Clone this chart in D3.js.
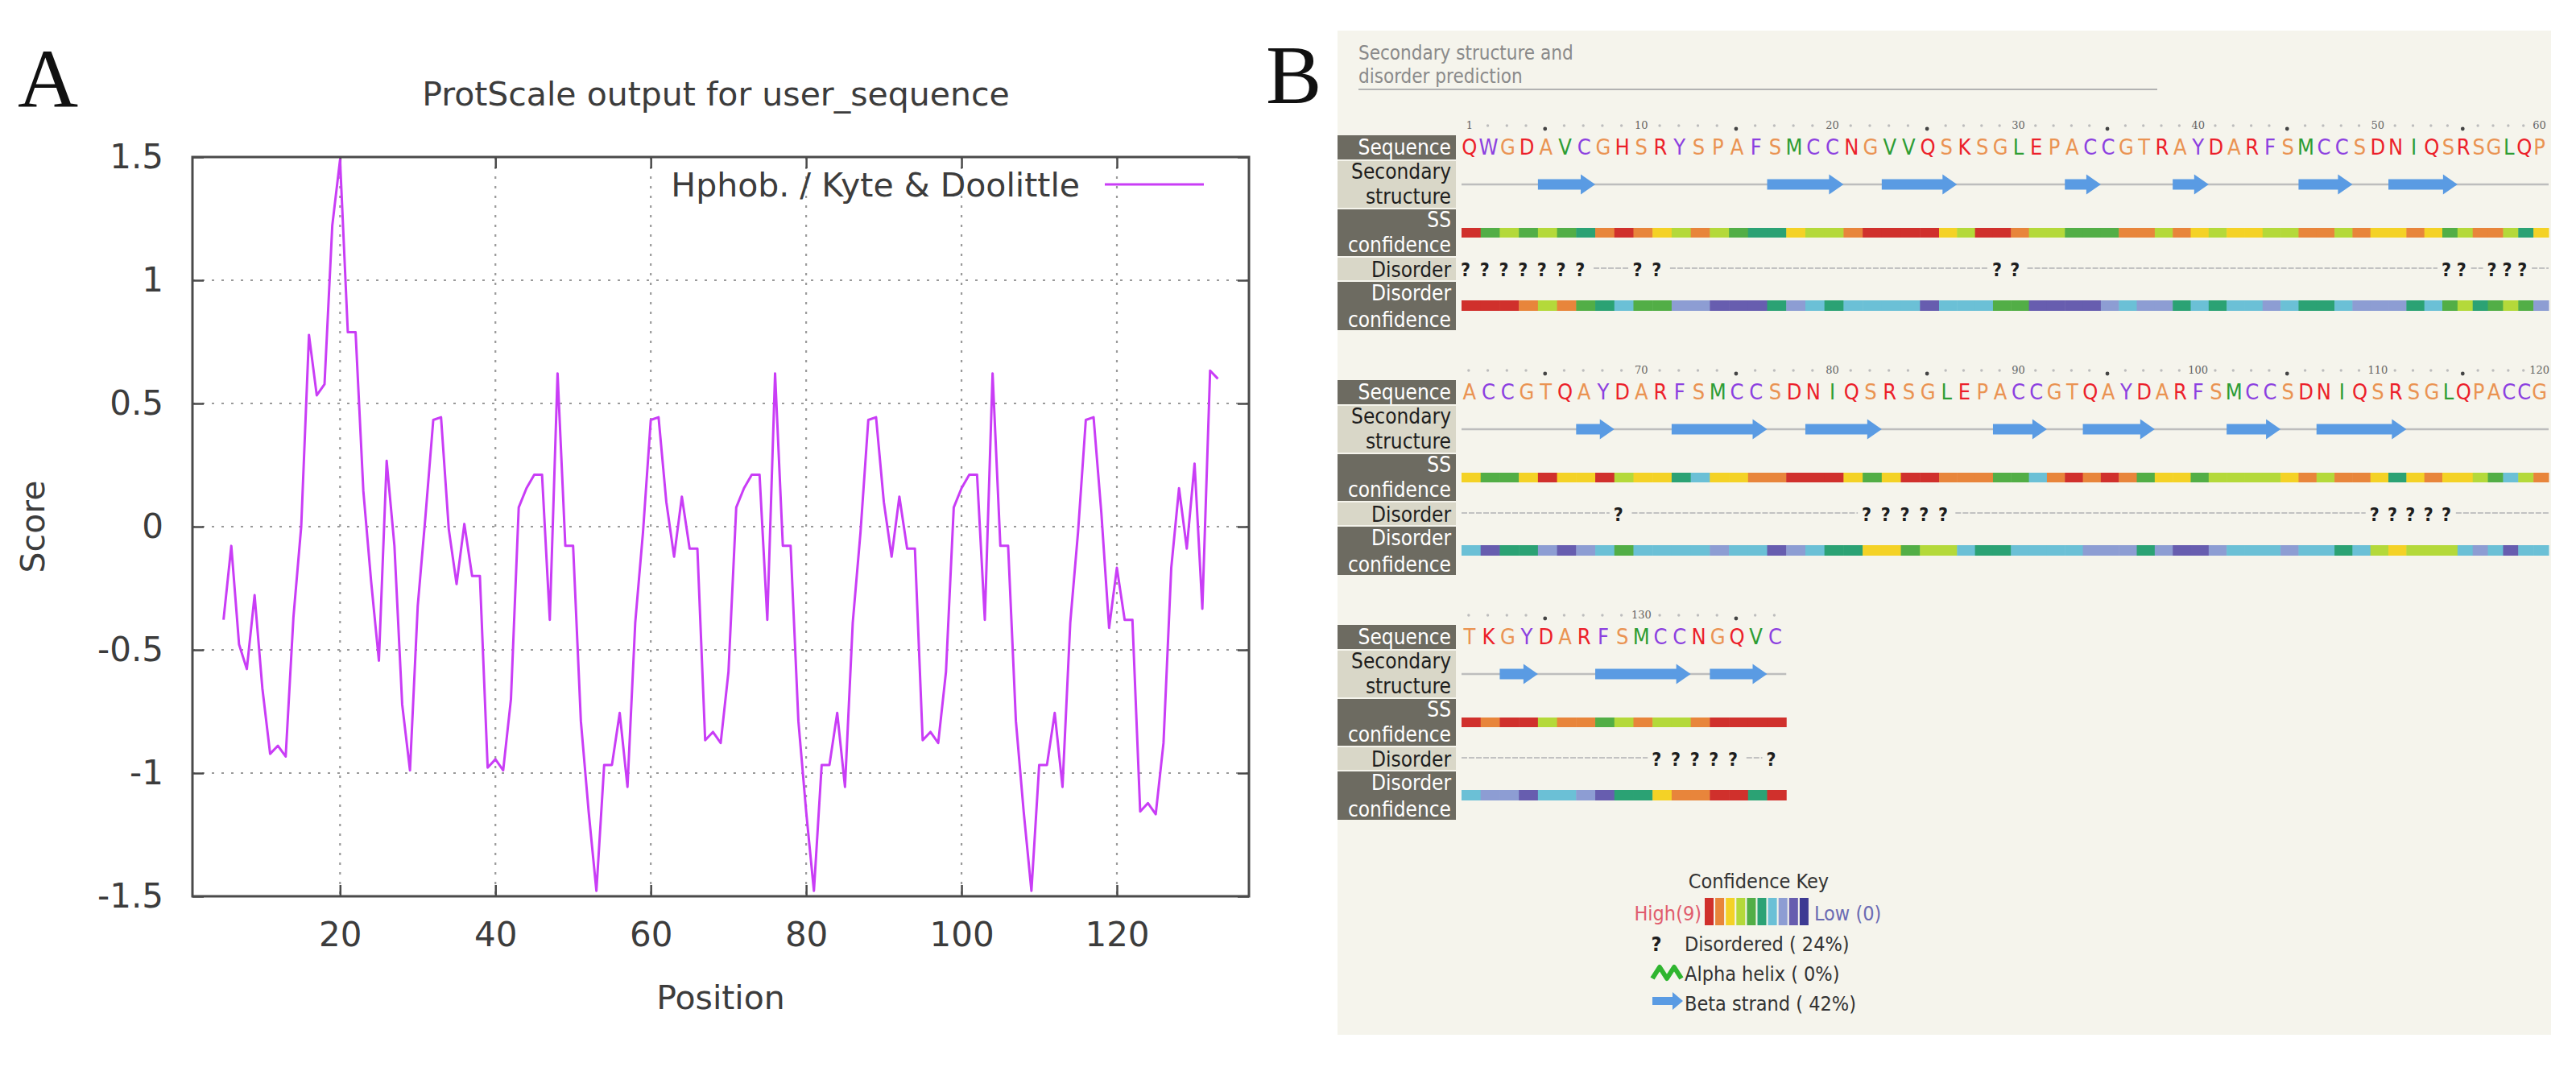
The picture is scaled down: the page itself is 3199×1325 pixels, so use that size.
<!DOCTYPE html>
<html>
<head>
<meta charset="utf-8">
<title>ProtScale and PSIPRED output</title>
<script src="https://cdn.jsdelivr.net/npm/d3@7"></script>
<style>
  body { margin: 0; background: #fff; }
  svg { display: block; }
</style>
</head>
<body>
<svg id="chart" width="3199" height="1325"></svg>
<script>
// ---------- panel A: hydropathy profile ----------
var positions = [5,6,7,8,9,10,11,12,13,14,15,16,17,18,19,20,21,22,23,24,25,26,27,28,29,30,31,32,33,34,
  35,36,37,38,39,40,41,42,43,44,45,46,47,48,49,50,51,52,53,54,55,56,57,58,59,60,61,62,63,64,
  65,66,67,68,69,70,71,72,73,74,75,76,77,78,79,80,81,82,83,84,85,86,87,88,89,90,91,92,93,94,
  95,96,97,98,99,100,101,102,103,104,105,106,107,108,109,110,111,112,113,114,115,116,117,118,119,120,
  121,122,123,124,125,126,127,128,129,130,131,132,133];
var scores = [
  -0.378,-0.078,-0.478,-0.578,-0.278,-0.656,-0.922,-0.889,-0.933,-0.367,
  0.000,0.778,0.533,0.578,1.222,1.489,0.789,0.789,0.144,-0.222,
  -0.544,0.267,-0.078,-0.722,-0.989,-0.322,0.044,0.433,0.444,-0.011,
  -0.233,0.011,-0.200,-0.200,-0.978,-0.944,-0.989,-0.700,0.078,0.156,
  0.211,0.211,-0.378,0.622,-0.078,-0.078,-0.789,-1.156,-1.478,-0.967,
  -0.967,-0.756,-1.056,-0.389,-0.022,0.433,0.444,0.100,-0.122,0.122,
  -0.089,-0.089,-0.867,-0.833,-0.878,-0.589,0.078,0.156,0.211,0.211,
  -0.378,0.622,-0.078,-0.078,-0.789,-1.156,-1.478,-0.967,-0.967,-0.756,
  -1.056,-0.389,-0.022,0.433,0.444,0.100,-0.122,0.122,-0.089,-0.089,
  -0.867,-0.833,-0.878,-0.589,0.078,0.156,0.211,0.211,-0.378,0.622,
  -0.078,-0.078,-0.789,-1.156,-1.478,-0.967,-0.967,-0.756,-1.056,-0.389,
  -0.022,0.433,0.444,0.056,-0.411,-0.167,-0.378,-0.378,-1.156,-1.122,
  -1.167,-0.878,-0.167,0.156,-0.089,0.256,-0.333,0.633,0.600];
var xTicks = [20, 40, 60, 80, 100, 120];
var yTicks = [-1.5, -1, -0.5, 0, 0.5, 1, 1.5];

// ---------- panel B: secondary structure / disorder ----------
var sequenceRows = [
  "QWGDAVCGHSRYSPAFSMCCNGVVQSKSGLEPACCGTRAYDARFSMCCSDNIQSRSGLQP",
  "ACCGTQAYDARFSMCCSDNIQSRSGLEPACCGTQAYDARFSMCCSDNIQSRSGLQPACCG",
  "TKGYDARFSMCCNGQVC"
];
var ssConfidence = [
  [9,5,6,5,6,5,4,8,9,8,7,6,8,6,5,4,4,7,6,6,8,9,9,9,9,7,6,9,9,8,6,6,5,5,5,8,8,6,8,7,6,7,7,6,6,8,8,6,8,7,7,8,7,5,6,8,8,6,4,7],
  [7,5,5,7,9,7,7,9,6,7,7,4,3,7,7,8,8,9,9,9,7,5,7,9,9,8,8,8,5,5,3,8,9,8,9,8,5,7,7,5,6,6,6,6,7,8,6,8,8,7,4,7,8,7,7,6,5,3,6,8],
  [9,8,9,9,6,8,8,5,6,8,6,6,8,9,9,9,9]
];
var disorderConfidence = [
  [9,9,9,8,6,8,5,4,3,5,5,2,2,1,1,1,4,2,3,4,3,3,3,3,1,3,3,3,5,5,1,1,1,1,2,3,2,2,4,3,4,3,3,2,3,4,4,3,2,2,2,4,3,5,6,4,5,6,5,2],
  [3,1,4,4,2,1,2,3,5,3,3,3,3,2,3,3,1,2,3,4,4,7,7,5,6,6,3,4,4,3,3,3,3,2,2,2,4,2,1,1,2,3,3,3,2,3,3,4,3,6,7,6,6,6,3,2,3,1,3,3],
  [3,2,2,1,3,3,2,1,4,4,7,8,8,9,9,4,9]
];
var strands = [[5,7],[17,20],[23,26],[33,34],[39,40],[46,48],[51,54],
  [67,68],[72,76],[79,82],[89,91],[94,97],[102,104],[107,111],
  [123,124],[128,132],[134,136]];
var disordered = [1,2,3,4,5,6,7,10,11,29,30,54,55,57,58,59,
  69,82,83,84,85,86,110,111,112,113,114,131,132,133,134,135,137];

// colours (styles, not data)
var residueGroups = [
  {letters: "DEHKNQR", color: "#ec1f2a"},
  {letters: "CFWY", color: "#8c40e0"},
  {letters: "AGPST", color: "#ea9352"},
  {letters: "ILMV", color: "#2e9d34"}
];
var confColors = ["#3d3a93", "#675daf", "#8d9dd3", "#6bc0d6", "#2ba274",
  "#52ae46", "#b4d93a", "#f4d226", "#e8853b", "#d0302c"];
var lineColor = "#c93df6";
var sansA = "'DejaVu Sans', sans-serif";
var sansB = "'DejaVu Sans Condensed', 'DejaVu Sans', sans-serif";

var svg = d3.select("#chart");
svg.append("rect").attr("width", 3199).attr("height", 1325).attr("fill", "#fff");

// ================= panel A =================
var x = d3.scaleLinear().domain([1, 137]).range([239, 1551]);
var y = d3.scaleLinear().domain([-1.5, 1.5]).range([1113, 195]);
var fmt = function(d) { return String(d); };

svg.append("text").attr("x", 22).attr("y", 133)
  .attr("font-family", "'Liberation Serif', 'DejaVu Serif', serif")
  .attr("font-size", 104).attr("fill", "#111").text("A");

svg.append("text").attr("x", 889).attr("y", 131).attr("text-anchor", "middle")
  .attr("font-family", sansA).attr("font-size", 41).attr("fill", "#3c3c3c")
  .text("ProtScale output for user_sequence");

// dotted grid
var grid = svg.append("g").attr("stroke", "#9a9a9a").attr("stroke-width", 2.2)
  .attr("stroke-dasharray", "3,9");
grid.selectAll("line.vx").data(xTicks).enter().append("line")
  .attr("x1", x).attr("x2", x).attr("y1", y(1.5)).attr("y2", y(-1.5));
grid.selectAll("line.hy").data(yTicks).enter().append("line")
  .attr("x1", x(1)).attr("x2", x(137)).attr("y1", y).attr("y2", y);

function styleAxis(g) {
  g.select(".domain").remove();
  g.selectAll(".tick line").attr("stroke", "#4a4a4a").attr("stroke-width", 2.5);
  g.selectAll(".tick text").attr("fill", "#3c3c3c");
  g.attr("font-family", sansA).attr("font-size", 42);
}
svg.append("g").attr("transform", "translate(0," + y(-1.5) + ")")
  .call(d3.axisBottom(x).tickValues(xTicks).tickSize(-14).tickPadding(32).tickFormat(fmt))
  .call(styleAxis);
svg.append("g").attr("transform", "translate(" + x(1) + ",0)")
  .call(d3.axisLeft(y).tickValues(yTicks).tickSize(-14).tickPadding(36).tickFormat(fmt))
  .call(styleAxis);
svg.append("g").attr("transform", "translate(0," + y(1.5) + ")")
  .call(d3.axisTop(x).tickValues(xTicks).tickSize(-14).tickFormat(""))
  .call(styleAxis);
svg.append("g").attr("transform", "translate(" + x(137) + ",0)")
  .call(d3.axisRight(y).tickValues(yTicks).tickSize(-14).tickFormat(""))
  .call(styleAxis);

var points = positions.map(function(p, i) { return [p, scores[i]]; });
var line = d3.line().x(function(d) { return x(d[0]); }).y(function(d) { return y(d[1]); });
svg.append("path").datum(points).attr("d", line)
  .attr("fill", "none").attr("stroke", lineColor).attr("stroke-width", 3)
  .attr("stroke-linejoin", "round");

svg.append("rect").attr("x", x(1)).attr("y", y(1.5))
  .attr("width", x(137) - x(1)).attr("height", y(-1.5) - y(1.5))
  .attr("fill", "none").attr("stroke", "#4a4a4a").attr("stroke-width", 3);

// key
svg.append("text").attr("x", 1341).attr("y", 244).attr("text-anchor", "end")
  .attr("font-family", sansA).attr("font-size", 41).attr("fill", "#3c3c3c")
  .text("Hphob. / Kyte & Doolittle");
svg.append("line").attr("x1", 1372).attr("x2", 1495).attr("y1", 229).attr("y2", 229)
  .attr("stroke", lineColor).attr("stroke-width", 3);

svg.append("text").attr("transform", "translate(41," + y(0) + ") rotate(-90)")
  .attr("text-anchor", "middle").attr("dy", "0.35em")
  .attr("font-family", sansA).attr("font-size", 41).attr("fill", "#3c3c3c").text("Score");
svg.append("text").attr("x", (x(1) + x(137)) / 2).attr("y", 1253).attr("text-anchor", "middle")
  .attr("font-family", sansA).attr("font-size", 41).attr("fill", "#3c3c3c").text("Position");

// ================= panel B =================
svg.append("text").attr("x", 1572).attr("y", 128)
  .attr("font-family", "'Liberation Serif', 'DejaVu Serif', serif")
  .attr("font-size", 104).attr("fill", "#111").text("B");

var pb = svg.append("g");
pb.append("rect").attr("x", 1661).attr("y", 38).attr("width", 1507).attr("height", 1247)
  .attr("fill", "#f5f4ec");

pb.append("text").attr("x", 1687).attr("y", 74).attr("font-family", sansB)
  .attr("font-size", 24).attr("fill", "#8a8a8a").text("Secondary structure and");
pb.append("text").attr("x", 1687).attr("y", 103).attr("font-family", sansB)
  .attr("font-size", 24).attr("fill", "#8a8a8a").text("disorder prediction");
pb.append("line").attr("x1", 1687).attr("x2", 2679).attr("y1", 111).attr("y2", 111)
  .attr("stroke", "#b2b2b2").attr("stroke-width", 2);

// residue index -> x (the source image is slightly squeezed towards the right edge)
var cellX = d3.scaleLinear().domain([0, 25, 53, 60]).range([1815, 2408, 3033, 3165]);
var blockGap = 304;
var labelRows = [
  {lines: ["Sequence"], y0: 168, y1: 198, dark: true, base: [192]},
  {lines: ["Secondary", "structure"], y0: 200, y1: 258, dark: false, base: [222, 253]},
  {lines: ["SS", "confidence"], y0: 260, y1: 318, dark: true, base: [282, 313]},
  {lines: ["Disorder"], y0: 320, y1: 348, dark: false, base: [344]},
  {lines: ["Disorder", "confidence"], y0: 350, y1: 410, dark: true, base: [373, 406]}
];

function residueColor(aa) {
  var c = "#333";
  residueGroups.forEach(function(g) { if (g.letters.indexOf(aa) >= 0) c = g.color; });
  return c;
}

function arrowPath(x0, x1, yc, body, head, headLen) {
  var h = Math.min(headLen, (x1 - x0) * 0.5);
  return "M" + x0 + "," + (yc - body) + "L" + (x1 - h) + "," + (yc - body) +
    "L" + (x1 - h) + "," + (yc - head) + "L" + x1 + "," + yc +
    "L" + (x1 - h) + "," + (yc + head) + "L" + (x1 - h) + "," + (yc + body) +
    "L" + x0 + "," + (yc + body) + "Z";
}

sequenceRows.forEach(function(row, b) {
  var g = pb.append("g").attr("transform", "translate(0," + (b * blockGap) + ")");
  var first = b * 60 + 1;
  var n = row.length;
  var cells = row.split("").map(function(aa, k) {
    return {aa: aa, k: k, pos: first + k, ss: ssConfidence[b][k], dc: disorderConfidence[b][k],
      dis: disordered.indexOf(first + k) >= 0};
  });
  var mid = function(d) { return (cellX(d.k) + cellX(d.k + 1)) / 2; };

  // labels
  labelRows.forEach(function(r) {
    g.append("rect").attr("x", 1661).attr("y", r.y0).attr("width", 147).attr("height", r.y1 - r.y0)
      .attr("fill", r.dark ? "#6d6b61" : "#d9d7c8");
    r.lines.forEach(function(t, i) {
      g.append("text").attr("x", 1802).attr("y", r.base[i]).attr("text-anchor", "end")
        .attr("font-family", sansB).attr("font-size", 26)
        .attr("fill", r.dark ? "#fff" : "#1e1e1e").text(t);
    });
  });

  // ruler
  var numbered = cells.filter(function(d) { return d.pos === 1 || d.pos % 10 === 0; });
  g.selectAll("text.num").data(numbered).enter().append("text")
    .attr("x", function(d) { return mid(d) - 2; }).attr("y", 160).attr("text-anchor", "middle")
    .attr("font-family", "'DejaVu Serif', serif").attr("font-size", 13).attr("fill", "#666")
    .text(function(d) { return d.pos; });
  g.selectAll("circle.dot").data(cells.filter(function(d) { return numbered.indexOf(d) < 0; }))
    .enter().append("circle")
    .attr("cx", function(d) { return mid(d) - 3; })
    .attr("cy", function(d) { return d.pos % 5 === 0 ? 160 : 156; })
    .attr("r", function(d) { return d.pos % 5 === 0 ? 2.4 : 1.7; })
    .attr("fill", function(d) { return d.pos % 5 === 0 ? "#444" : "#bdbdbd"; });

  // sequence letters
  g.selectAll("text.aa").data(cells).enter().append("text")
    .attr("x", function(d) { return mid(d) - 2; }).attr("y", 192).attr("text-anchor", "middle")
    .attr("font-family", sansB).attr("font-size", 27)
    .attr("fill", function(d) { return residueColor(d.aa); })
    .text(function(d) { return d.aa; });

  // secondary structure: coil line + strand arrows
  g.append("line").attr("x1", cellX(0)).attr("x2", cellX(n)).attr("y1", 229).attr("y2", 229)
    .attr("stroke", "#bdbdbd").attr("stroke-width", 2.5);
  var rowStrands = strands.filter(function(s) { return s[0] >= first && s[1] < first + n; });
  g.selectAll("path.strand").data(rowStrands).enter().append("path")
    .attr("d", function(s) {
      return arrowPath(cellX(s[0] - first), cellX(s[1] - first + 1), 229, 6.5, 12.5, 18);
    })
    .attr("fill", "#5a9be3");

  // SS confidence bar
  g.selectAll("rect.ss").data(cells).enter().append("rect")
    .attr("x", function(d) { return cellX(d.k); }).attr("y", 283)
    .attr("width", function(d) { return cellX(d.k + 1) - cellX(d.k) + 0.5; }).attr("height", 12)
    .attr("fill", function(d) { return confColors[d.ss]; });

  // disorder: "?" for disordered residues, thin line for the rest
  var runs = [];
  var k = 0;
  while (k < n) {
    if (!cells[k].dis) {
      var s = k;
      while (k < n && !cells[k].dis) k++;
      runs.push([s, k]);
    } else k++;
  }
  g.selectAll("line.ord").data(runs).enter().append("line")
    .attr("x1", function(r) { return r[0] > 0 ? cellX(r[0]) - 2 : cellX(0); })
    .attr("x2", function(r) { return r[1] < n ? cellX(r[1]) - 6 : cellX(n); })
    .attr("y1", 333).attr("y2", 333)
    .attr("stroke", "#c2c2c2").attr("stroke-width", 2).attr("stroke-dasharray", "7,2");
  g.selectAll("text.dis").data(cells.filter(function(d) { return d.dis; })).enter().append("text")
    .attr("x", function(d) { return cellX(d.k) + 5; }).attr("y", 343).attr("text-anchor", "middle")
    .attr("font-family", sansB).attr("font-weight", "bold").attr("font-size", 23)
    .attr("fill", "#1e1e1e").text("?");

  // disorder confidence bar
  g.selectAll("rect.dc").data(cells).enter().append("rect")
    .attr("x", function(d) { return cellX(d.k); }).attr("y", 373)
    .attr("width", function(d) { return cellX(d.k + 1) - cellX(d.k) + 0.5; }).attr("height", 13)
    .attr("fill", function(d) { return confColors[d.dc]; });
});

// confidence key
var total = sequenceRows.join("").length;
var strandCount = d3.sum(strands, function(s) { return s[1] - s[0] + 1; });
var key = pb.append("g").attr("font-family", sansB).attr("font-size", 25);
key.append("text").attr("x", 2184).attr("y", 1103).attr("text-anchor", "middle")
  .attr("fill", "#333").text("Confidence Key");
key.append("text").attr("x", 2113).attr("y", 1143).attr("text-anchor", "end")
  .attr("fill", "#e05c6c").text("High(9)");
var levels = d3.range(9, -1, -1);
key.selectAll("rect.sw").data(levels).enter().append("rect")
  .attr("x", function(d, i) { return 2117 + i * 13.1; }).attr("y", 1115)
  .attr("width", 11).attr("height", 34)
  .attr("fill", function(d) { return confColors[d]; });
key.append("text").attr("x", 2253).attr("y", 1143).attr("fill", "#6b6bb3").text("Low (0)");

key.append("text").attr("x", 2057).attr("y", 1181).attr("text-anchor", "middle")
  .attr("font-weight", "bold").attr("fill", "#1e1e1e").text("?");
key.append("text").attr("x", 2092).attr("y", 1181).attr("fill", "#333")
  .text("Disordered ( " + Math.round(disordered.length / total * 100) + "%)");

// helix glyph: two small green peaks
key.append("path").attr("d", "M2052,1215 L2061,1201 L2070,1215 L2079,1201 L2088,1215")
  .attr("fill", "none").attr("stroke", "#2fb52f").attr("stroke-width", 6)
  .attr("stroke-linejoin", "round");
key.append("text").attr("x", 2092).attr("y", 1218).attr("fill", "#333")
  .text("Alpha helix ( 0%)");

key.append("path").attr("d", arrowPath(2052, 2090, 1243, 5, 11, 13)).attr("fill", "#5a9be3");
key.append("text").attr("x", 2092).attr("y", 1255).attr("fill", "#333")
  .text("Beta strand ( " + Math.round(strandCount / total * 100) + "%)");
</script>
</body>
</html>
